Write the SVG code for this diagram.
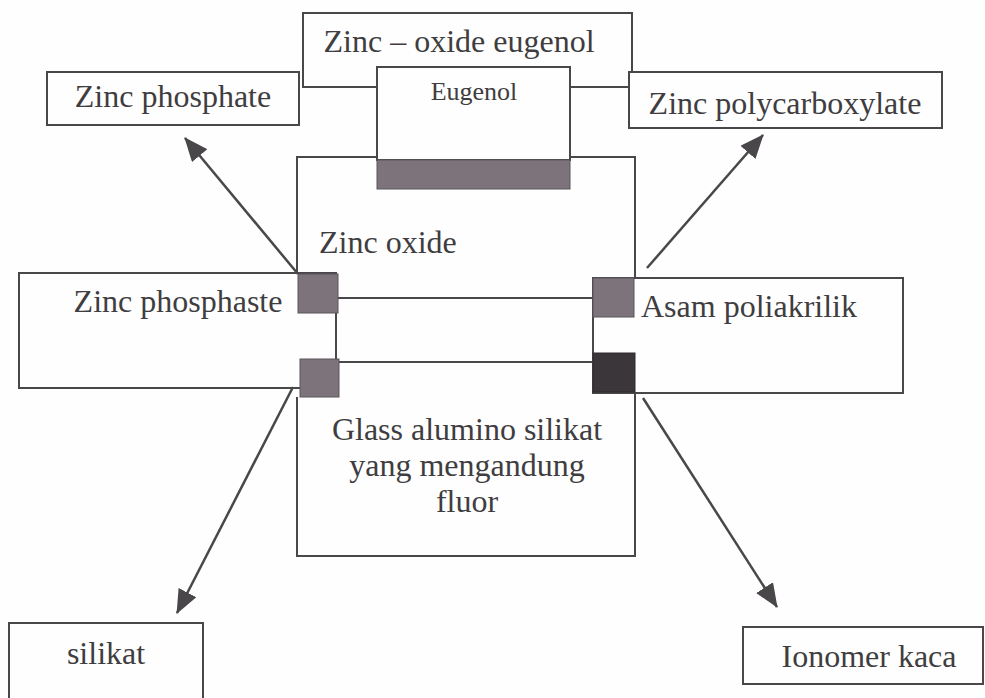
<svg xmlns="http://www.w3.org/2000/svg" width="985" height="698" viewBox="0 0 985 698">
<defs>
<style>
.box{fill:#fefefe;stroke:#4a474a;stroke-width:2}
.ln{fill:none;stroke:#4a474a;stroke-width:2}
.arr{fill:none;stroke:#4a474a;stroke-width:2.5}
.t{font-family:"Liberation Serif","Times New Roman",serif;font-size:32px;fill:#403d40}
.ts{font-family:"Liberation Serif","Times New Roman",serif;font-size:26px;fill:#403d40}
.sq{fill:#7d747b;stroke:#5a555a;stroke-width:1}
.sqd{fill:#3b3639;stroke:#2e2a2d;stroke-width:1}
</style>
<marker id="ah" viewBox="0 0 24 20" refX="23" refY="10" markerWidth="24" markerHeight="20" markerUnits="userSpaceOnUse" orient="auto">
<path d="M0,0 L24,10 L0,20 Z" fill="#4a474a"/>
</marker>
</defs>
<rect width="985" height="698" fill="#fefefe"/>

<g id="central">
<path class="ln" d="M297,274 L297,157 L635,157 L635,278 M635,392 L635,556 L297,556 L297,397"/>
<text class="t" x="319" y="253">Zinc oxide</text>
<text class="t" x="467" y="440" text-anchor="middle">Glass alumino silikat</text>
<text class="t" x="467" y="476" text-anchor="middle">yang mengandung</text>
<text class="t" x="467" y="512" text-anchor="middle">fluor</text>
</g>

<g id="zinc-oxide-eugenol">
<rect class="box" x="303" y="13" width="329" height="74"/>
<text class="t" x="459" y="52" text-anchor="middle">Zinc – oxide eugenol</text>
</g>

<g id="zinc-phosphate">
<rect class="box" x="47" y="72" width="252" height="53"/>
<text class="t" x="173" y="107" text-anchor="middle">Zinc phosphate</text>
</g>

<g id="zinc-polycarboxylate">
<rect class="box" x="629" y="72" width="313" height="56"/>
<text class="t" x="785" y="114" text-anchor="middle">Zinc polycarboxylate</text>
</g>

<g id="eugenol">
<rect class="box" x="377" y="67" width="193" height="93"/>
<rect class="sq" x="377" y="160" width="193" height="29"/>
<text class="ts" x="474" y="100" text-anchor="middle">Eugenol</text>
</g>

<g id="zinc-phosphaste">
<rect class="box" x="19" y="273" width="317" height="115"/>
<text class="t" x="178" y="312" text-anchor="middle">Zinc phosphaste</text>
</g>

<g id="asam-poliakrilik">
<rect class="box" x="593" y="278" width="310" height="115"/>
<text class="t" x="641" y="317">Asam poliakrilik</text>
</g>

<g id="silikat">
<rect class="box" x="9" y="623" width="194" height="90"/>
<text class="t" x="106" y="664" text-anchor="middle">silikat</text>
</g>

<g id="ionomer-kaca">
<rect class="box" x="743" y="627" width="240" height="57"/>
<text class="t" x="869" y="667" text-anchor="middle">Ionomer kaca</text>
</g>

<g id="connectors">
<line class="ln" x1="338" y1="298" x2="593" y2="298"/>
<line class="ln" x1="339" y1="362" x2="593" y2="362"/>
<line class="arr" x1="298" y1="274" x2="185" y2="138" marker-end="url(#ah)"/>
<line class="arr" x1="647" y1="268" x2="763" y2="135" marker-end="url(#ah)"/>
<line class="arr" x1="293" y1="387" x2="177" y2="613" marker-end="url(#ah)"/>
<line class="arr" x1="643" y1="398" x2="777" y2="607" marker-end="url(#ah)"/>
</g>

<g id="squares">
<rect class="sq" x="298" y="274" width="40" height="39"/>
<rect class="sq" x="300" y="359" width="39" height="38"/>
<rect class="sq" x="593" y="278" width="41" height="39"/>
<rect class="sqd" x="593" y="353" width="42" height="39"/>
</g>
</svg>
